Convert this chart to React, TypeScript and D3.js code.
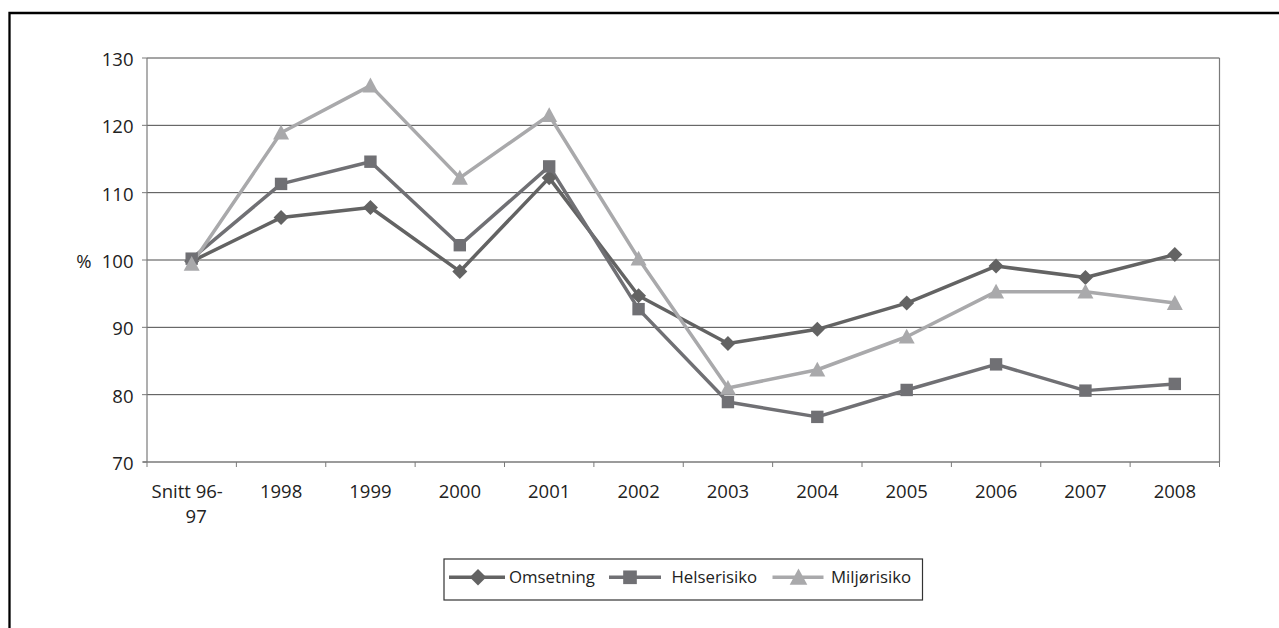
import React from "react";
import * as d3 from "d3";

const categories = ["Snitt 96-97", "1998", "1999", "2000", "2001", "2002", "2003", "2004", "2005", "2006", "2007", "2008"];
const omsetning = [99.8, 106.3, 107.8, 98.3, 112.2, 94.7, 87.6, 89.7, 93.6, 99.1, 97.4, 100.8];
const helserisiko = [100.2, 111.3, 114.6, 102.2, 113.9, 92.7, 78.9, 76.7, 80.7, 84.5, 80.6, 81.6];
const miljorisiko = [99.4, 118.9, 125.9, 112.2, 121.5, 100.2, 81.0, 83.7, 88.6, 95.3, 95.3, 93.6];
const yTicks = [70, 80, 90, 100, 110, 120, 130];
const seriesNames = ["Omsetning", "Helserisiko", "Miljørisiko"];

const FONT = "'Open Sans', 'DejaVu Sans', sans-serif";

const W = 1279, H = 628;
const plot = { left: 147, right: 1219.5, top: 58, bottom: 462 };

const colors = ["#636363", "#707074", "#a9a9ab"];
const shapes = ["diamond", "square", "triangle"];

function Marker({ shape, x, y, color, big }: { shape: string; x: number; y: number; color: string; big?: boolean }) {
  const k = big ? 1.1 : 1;
  if (shape === "diamond") {
    const s = 7.5 * k;
    return <path d={`M${x},${y - s}L${x + s},${y}L${x},${y + s}L${x - s},${y}Z`} fill={color} />;
  }
  if (shape === "square") {
    const s = 6.2 * k;
    return <rect x={x - s} y={y - s} width={2 * s} height={2 * s} fill={color} />;
  }
  const s = 8 * k;
  return <path d={`M${x},${y - s}L${x + s},${y + s * 0.85}L${x - s},${y + s * 0.85}Z`} fill={color} />;
}

export default function App() {
  const x = d3.scaleBand<string>().domain(categories).range([plot.left, plot.right]);
  const y = d3.scaleLinear().domain([70, 130]).range([plot.bottom, plot.top]);
  const cx = (c: string) => (x(c) as number) + x.bandwidth() / 2;
  const line = d3
    .line<number>()
    .x((_, i) => cx(categories[i]))
    .y((d) => y(d));
  const data = [omsetning, helserisiko, miljorisiko];
  const boundaries = categories.map((c) => x(c) as number).concat([plot.right]);

  const legendItems = [
    { x0: 449, x1: 505, mx: 478, tx: 509 },
    { x0: 609, x1: 661, mx: 630, tx: 671.5 },
    { x0: 772.5, x1: 823.5, mx: 798.5, tx: 831 },
  ];

  return (
    <svg width={W} height={H} style={{ position: "absolute", left: 0, top: 0 }} fontFamily={FONT}>
      <rect x={0} y={0} width={W} height={H} fill="#fff" />
      {/* outer frame */}
      <path d={`M9.5,${H + 5}L9.5,13L${W + 5},13`} fill="none" stroke="#000" strokeWidth={2.3} />

      {/* gridlines */}
      {yTicks.slice(1).map((t) => (
        <line key={t} x1={plot.left} x2={plot.right} y1={y(t)} y2={y(t)} stroke="#4a4a4a" strokeWidth={1} />
      ))}
      {/* axes */}
      <line x1={plot.left} x2={plot.left} y1={plot.top} y2={plot.bottom} stroke="#7a7a7a" strokeWidth={1.2} />
      <line x1={plot.right} x2={plot.right} y1={plot.top} y2={plot.bottom} stroke="#7a7a7a" strokeWidth={1.2} />
      <line x1={plot.left - 4} x2={plot.right} y1={plot.bottom} y2={plot.bottom} stroke="#7a7a7a" strokeWidth={1.5} />
      {yTicks.map((t) => (
        <g key={t}>
          <line x1={plot.left - 5} x2={plot.left} y1={y(t)} y2={y(t)} stroke="#7a7a7a" strokeWidth={1} />
          <text x={133.5} y={y(t) + 1.5} dy="0.35em" textAnchor="end" fontSize={18.5} fill="#222">
            {t}
          </text>
        </g>
      ))}
      <text x={84} y={y(100) + 1.5} dy="0.35em" textAnchor="middle" fontSize={18.5} fill="#222">
        %
      </text>
      {boundaries.map((b, i) => (
        <line key={i} x1={b} x2={b} y1={plot.bottom} y2={plot.bottom + 5} stroke="#7a7a7a" strokeWidth={1} />
      ))}
      {categories.map((c) => {
        const parts = c === "Snitt 96-97" ? ["Snitt 96-", "97"] : [c];
        const offs = parts.length > 1 ? [-4.5, 4.5] : [0];
        return (
          <text key={c} y={498} textAnchor="middle" fontSize={18.5} fill="#222">
            {parts.map((p, i) => (
              <tspan key={i} x={cx(c) + offs[i]} dy={i === 0 ? 0 : 24.5}>
                {p}
              </tspan>
            ))}
          </text>
        );
      })}

      {/* series */}
      {data.map((s, k) => (
        <g key={k}>
          <path d={line(s) as string} fill="none" stroke={colors[k]} strokeWidth={3.5} strokeLinejoin="round" />
        </g>
      ))}
      {data.map((s, k) => (
        <g key={"m" + k}>
          {s.map((v, i) => (
            <Marker key={i} shape={shapes[k]} x={cx(categories[i])} y={y(v)} color={colors[k]} />
          ))}
        </g>
      ))}

      {/* legend */}
      <rect x={444} y={559} width={478.5} height={41} fill="#fff" stroke="#333" strokeWidth={1.2} />
      {seriesNames.map((n, k) => {
        const it = legendItems[k];
        const ly = 577.3;
        return (
          <g key={n}>
            <line x1={it.x0} x2={it.x1} y1={ly} y2={ly} stroke={colors[k]} strokeWidth={3.5} />
            <Marker shape={shapes[k]} x={it.mx} y={ly} color={colors[k]} big />
            <text x={it.tx} y={ly} dy="0.35em" fontSize={16.8} fill="#222">
              {n}
            </text>
          </g>
        );
      })}
    </svg>
  );
}
